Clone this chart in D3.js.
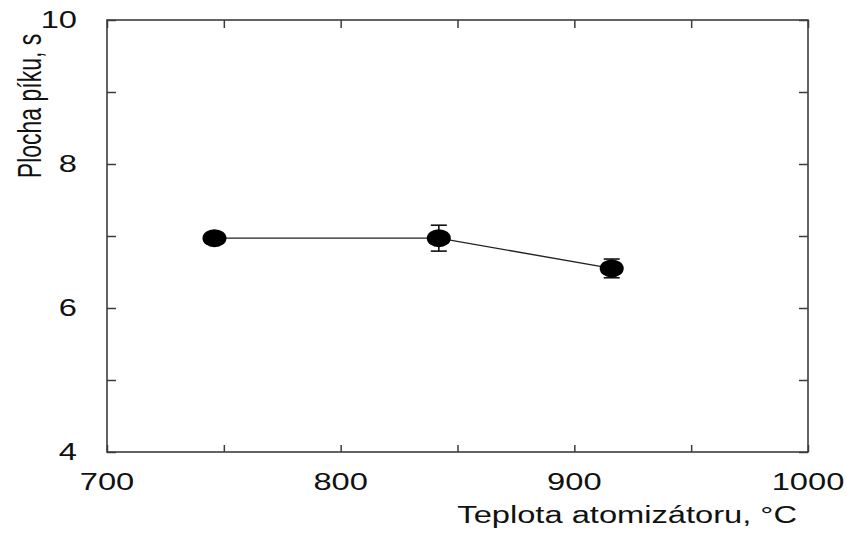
<!DOCTYPE html>
<html>
<head>
<meta charset="utf-8">
<script src="https://cdn.jsdelivr.net/npm/d3@7"></script>
<style>
  body { margin: 0; background: #fff; }
  text { font-family: "Liberation Sans", Arial, sans-serif; fill: #111; }
</style>
</head>
<body>
<div class="chart"></div>
<script>
// data
const temps = [746, 842, 916];
const areas = [6.97, 6.97, 6.55];
const errs = [0.05, 0.18, 0.13];
const xLabels = [700, 800, 900, 1000];
const yLabels = [4, 6, 8, 10];
const xMinor = d3.range(700, 1001, 50);
const yMinor = d3.range(4, 11, 1);

const width = 846;
const height = 533;
const margin = { left: 107, right: 38, top: 20, bottom: 81 };
const stretch = 1.42; // glyphs in the source are widened

const svg = d3.select('.chart')
  .append('svg')
  .attr('width', width)
  .attr('height', height);

const x = d3.scaleLinear().domain([700, 1000]).range([margin.left, width - margin.right]);
const y = d3.scaleLinear().domain([4, 10]).range([height - margin.bottom, margin.top]);

const frameColor = '#3c3c3c';

// inward ticks on all four sides
svg.append('g')
  .attr('transform', `translate(0, ${y(4)})`)
  .call(d3.axisBottom(x).tickValues(xMinor).tickSize(-7).tickFormat(''))
  .call(g => g.select('.domain').remove());
svg.append('g')
  .attr('transform', `translate(0, ${y(10)})`)
  .call(d3.axisTop(x).tickValues(xMinor).tickSize(-8).tickFormat(''))
  .call(g => g.select('.domain').remove());
svg.append('g')
  .attr('transform', `translate(${x(700)}, 0)`)
  .call(d3.axisLeft(y).tickValues(yMinor).tickSize(-9).tickFormat(''))
  .call(g => g.select('.domain').remove());
svg.append('g')
  .attr('transform', `translate(${x(1000)}, 0)`)
  .call(d3.axisRight(y).tickValues(yMinor).tickSize(-9).tickFormat(''))
  .call(g => g.select('.domain').remove());
svg.selectAll('.tick line').attr('stroke', frameColor).attr('stroke-width', 1.5);

// frame
svg.append('rect')
  .attr('x', x(700))
  .attr('y', y(10))
  .attr('width', x(1000) - x(700))
  .attr('height', y(4) - y(10))
  .attr('fill', 'none')
  .attr('stroke', frameColor)
  .attr('stroke-width', 1.6);

// tick labels
svg.selectAll('.xlab')
  .data(xLabels)
  .enter()
  .append('text')
  .attr('class', 'xlab')
  .attr('transform', d => `translate(${x(d)}, ${y(4) + 38}) scale(${stretch}, 1)`)
  .attr('text-anchor', 'middle')
  .attr('font-size', 23)
  .text(d => d);

svg.selectAll('.ylab')
  .data(yLabels)
  .enter()
  .append('text')
  .attr('class', 'ylab')
  .attr('transform', d => `translate(77, ${y(d) + 8}) scale(${stretch}, 1)`)
  .attr('text-anchor', 'end')
  .attr('font-size', 23)
  .text(d => d);

// axis titles
svg.append('text')
  .attr('transform', `translate(797, 523) scale(${stretch}, 1)`)
  .attr('text-anchor', 'end')
  .attr('font-size', 23)
  .text('Teplota atomizátoru, °C');

svg.append('text')
  .attr('transform', `translate(41, 106) scale(${stretch}, 1) rotate(-90)`)
  .attr('text-anchor', 'middle')
  .attr('font-size', 23)
  .text('Plocha píku, s');

// connecting line
const pts = temps.map((t, i) => ({ t, a: areas[i], e: errs[i] }));
svg.append('path')
  .datum(pts)
  .attr('fill', 'none')
  .attr('stroke', '#222')
  .attr('stroke-width', 1.4)
  .attr('d', d3.line().x(d => x(d.t)).y(d => y(d.a)));

// error bars
const bars = svg.selectAll('.err')
  .data(pts)
  .enter()
  .append('g')
  .attr('class', 'err')
  .attr('stroke', '#111')
  .attr('stroke-width', 1.6);
bars.append('line')
  .attr('x1', d => x(d.t)).attr('x2', d => x(d.t))
  .attr('y1', d => y(d.a + d.e)).attr('y2', d => y(d.a - d.e));
bars.append('line')
  .attr('x1', d => x(d.t) - 8).attr('x2', d => x(d.t) + 8)
  .attr('y1', d => y(d.a + d.e)).attr('y2', d => y(d.a + d.e));
bars.append('line')
  .attr('x1', d => x(d.t) - 8).attr('x2', d => x(d.t) + 8)
  .attr('y1', d => y(d.a - d.e)).attr('y2', d => y(d.a - d.e));

// markers
svg.selectAll('.pt')
  .data(pts)
  .enter()
  .append('ellipse')
  .attr('class', 'pt')
  .attr('cx', d => x(d.t))
  .attr('cy', d => y(d.a))
  .attr('rx', 12)
  .attr('ry', 9)
  .attr('fill', '#000');
</script>
</body>
</html>
